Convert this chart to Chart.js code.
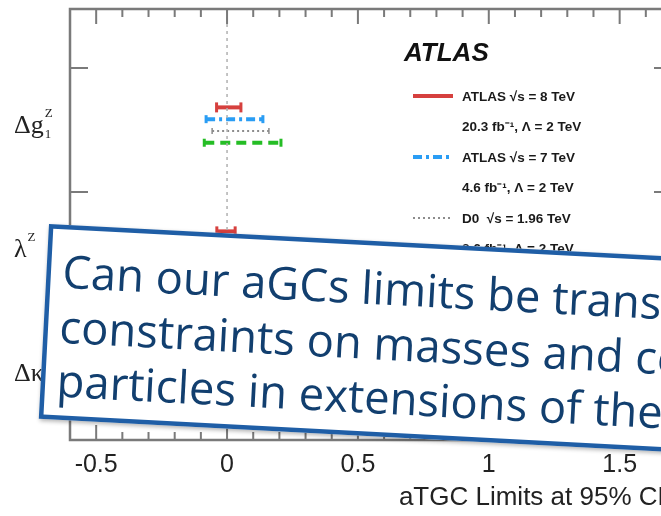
<!DOCTYPE html>
<html>
<head>
<meta charset="utf-8">
<script src="https://cdn.jsdelivr.net/npm/chart.js@4.4.1/dist/chart.umd.min.js"></script>
<style>
  html, body { margin: 0; padding: 0; width: 661px; height: 516px; overflow: hidden; background: #fff; }
  #plot { position: absolute; left: 0; top: 0; }
</style>
</head>
<body>
<canvas id="plot" width="700" height="516"></canvas>
<script>
// couplings (top to bottom) and experiments (top to bottom inside each group)
const couplings = ['Δg', 'λ', 'Δκ'];
const experiments = ['ATLAS 8 TeV', 'ATLAS 7 TeV', 'D0 1.96 TeV', 'CMS 7 TeV'];

// 95% CL intervals [low, high] per coupling
const atlas8Limits = [[-0.040, 0.053], [-0.039, 0.031], [-0.036, 0.035]];
const atlas7Limits = [[-0.080, 0.137], [-0.062, 0.065], [-0.043, 0.043]];
const d0Limits     = [[-0.057, 0.160], [-0.036, 0.044], [-0.075, 0.113]];
const cmsLimits    = [[-0.087, 0.206], [-0.048, 0.048], [-0.043, 0.043]];
const allLimits = [atlas8Limits, atlas7Limits, d0Limits, cmsLimits];

const xTickValues = [-0.5, 0, 0.5, 1, 1.5];
const xTickLabels = ['-0.5', '0', '0.5', '1', '1.5'];
const yTickValues = [1, 2, 3];
const xTitle = 'aTGC Limits at 95% CL';

const legendTitle = 'ATLAS';
const legendLine1 = ['ATLAS √s = 8 TeV', 'ATLAS √s = 7 TeV', 'D0  √s = 1.96 TeV', 'CMS √s = 7 TeV'];
const legendLine2 = ['20.3 fb⁻¹, Λ = 2 TeV', '4.6 fb⁻¹, Λ = 2 TeV', '8.6 fb⁻¹, Λ = 2 TeV', '5.0 fb⁻¹, Λ = ∞'];

const noteLines = ['Can our aGCs limits be trans', 'constraints on masses and co', 'particles in extensions of the'];

// styles
const colors = ['#d6403e', '#2a9df4', '#8c8c8c', '#25bd25'];
const widths = [4, 4, 2, 4];
const dashes = [[], [9, 4, 3, 4], [2, 3], [10, 6]];
const caps = [5, 4, 3, 4];

const Y_MAX = 3.476;
const groupCenter = i => couplings.length - i - 0.46;
const expOffset = j => (1.5 - j) * 0.095;

const datasets = [];
// vertical dotted line at zero
datasets.push({
  data: [{ x: 0, y: 0 }, { x: 0, y: Y_MAX }],
  showLine: true, borderColor: '#b0b0b0', borderWidth: 1.5, borderDash: [3, 4],
  pointRadius: 0
});
allLimits.forEach((lims, j) => {
  lims.forEach((lim, i) => {
    const y = groupCenter(i) + expOffset(j);
    datasets.push({
      data: [{ x: lim[0], y: y }, { x: lim[1], y: y }],
      showLine: true,
      borderColor: colors[j], borderWidth: widths[j], borderDash: dashes[j],
      pointStyle: 'line', rotation: 90, pointRadius: caps[j],
      pointBorderColor: colors[j], pointBorderWidth: j === 2 ? 1.5 : 3,
      pointBackgroundColor: colors[j]
    });
  });
});

// frame with inward ticks
const framePlugin = {
  id: 'frame',
  afterDatasetsDraw(chart) {
    const c = chart.ctx, a = chart.chartArea;
    const xs = chart.scales.x, ys = chart.scales.y;
    c.save();
    c.strokeStyle = '#7a7a7a';
    c.lineWidth = 2.5;
    c.strokeRect(a.left, a.top, a.right - a.left, a.bottom - a.top);
    c.lineWidth = 2;
    for (let k = -6; k <= 17; k++) {
      const v = k / 10;
      const px = xs.getPixelForValue(v);
      const len = (k % 5 === 0) ? 15 : 8;
      c.beginPath();
      c.moveTo(px, a.bottom); c.lineTo(px, a.bottom - len);
      c.moveTo(px, a.top); c.lineTo(px, a.top + len);
      c.stroke();
    }
    yTickValues.forEach(v => {
      const py = ys.getPixelForValue(v);
      c.beginPath();
      c.moveTo(a.left, py); c.lineTo(a.left + 18, py);
      c.moveTo(a.right, py); c.lineTo(a.right - 18, py);
      c.stroke();
    });
    c.restore();
  }
};

// coupling names on the left
const labelPlugin = {
  id: 'ylabels',
  afterDatasetsDraw(chart) {
    const c = chart.ctx, ys = chart.scales.y;
    c.save();
    c.fillStyle = '#222';
    c.textBaseline = 'alphabetic';
    couplings.forEach((name, i) => {
      const base = ys.getPixelForValue(groupCenter(i)) + 8;
      c.font = '26px "Liberation Serif"';
      c.fillText(name, 14, base);
      const w = c.measureText(name).width;
      c.font = '13px "Liberation Serif"';
      c.fillText('Z', 14 + w + 1, base - 16);
      if (i === 0) c.fillText('1', 14 + w + 1, base + 5);
    });
    c.restore();
  }
};

// legend
const legendPlugin = {
  id: 'atlasLegend',
  afterDatasetsDraw(chart) {
    const c = chart.ctx;
    c.save();
    c.fillStyle = '#111';
    c.textBaseline = 'middle';
    c.font = 'italic bold 26px "Liberation Sans"';
    c.fillText(legendTitle, 404, 54);
    experiments.forEach((e, j) => {
      const y = 96 + j * 61;
      c.strokeStyle = colors[j];
      c.lineWidth = widths[j];
      c.setLineDash(dashes[j]);
      c.beginPath(); c.moveTo(413, y); c.lineTo(453, y); c.stroke();
      c.setLineDash([]);
      c.fillStyle = '#1a1a1a';
      c.font = 'bold 13.5px "Liberation Sans"';
      c.fillText(legendLine1[j], 462, y + 1);
      c.fillText(legendLine2[j], 462, y + 31);
    });
    c.restore();
  }
};

// tilted call-out box
const notePlugin = {
  id: 'note',
  afterDraw(chart) {
    const c = chart.ctx;
    c.save();
    c.translate(49, 224);
    c.rotate(3 * Math.PI / 180);
    c.shadowColor = 'rgba(0,0,0,0.3)';
    c.shadowBlur = 4; c.shadowOffsetX = 1; c.shadowOffsetY = 2;
    c.fillStyle = '#fff';
    c.fillRect(0, 0, 760, 195);
    c.shadowColor = 'transparent';
    c.strokeStyle = '#1f5ea6';
    c.lineWidth = 4.5;
    c.strokeRect(2.25, 2.25, 760, 190.5);
    let size = 45;
    c.font = size + 'px "Open Sans"';
    size = size * 600 / c.measureText(noteLines[0]).width;
    c.font = size + 'px "Open Sans"';
    const xh = c.measureText('x').actualBoundingBoxAscent;
    const k = Math.min(1.35, Math.max(1, 25 / xh));
    c.fillStyle = '#123f6f';
    const bases = [63, 118, 172];
    noteLines.forEach((t, i) => {
      c.save();
      c.translate(16, bases[i]);
      c.scale(1, k);
      c.fillText(t, 0, 0);
      c.restore();
    });
    c.restore();
  }
};

new Chart(document.getElementById('plot'), {
  type: 'scatter',
  data: { datasets },
  options: {
    responsive: false,
    animation: false,
    layout: { padding: { top: 9, right: 28, left: 0, bottom: 0 } },
    plugins: { legend: { display: false }, tooltip: { enabled: false } },
    scales: {
      x: {
        type: 'linear', min: -0.6, max: 1.7,
        grid: { display: false }, border: { display: false },
        afterBuildTicks: s => { s.ticks = xTickValues.map(v => ({ value: v })); },
        afterFit: s => { s.height = 76; },
        ticks: {
          autoSkip: false, maxRotation: 0, padding: 2, color: '#222',
          font: { family: '"Liberation Sans", Arial', size: 25 },
          callback: (v, i) => xTickLabels[i]
        },
        title: {
          display: true, text: xTitle, align: 'end', color: '#222',
          font: { family: '"Liberation Sans", Arial', size: 26 },
          padding: { top: 0, bottom: 3 }
        }
      },
      y: {
        type: 'linear', min: 0, max: Y_MAX,
        grid: { display: false }, border: { display: false },
        ticks: { display: false },
        afterFit: s => { s.width = 70; }
      }
    }
  },
  plugins: [framePlugin, labelPlugin, legendPlugin, notePlugin]
});
</script>
</body>
</html>
